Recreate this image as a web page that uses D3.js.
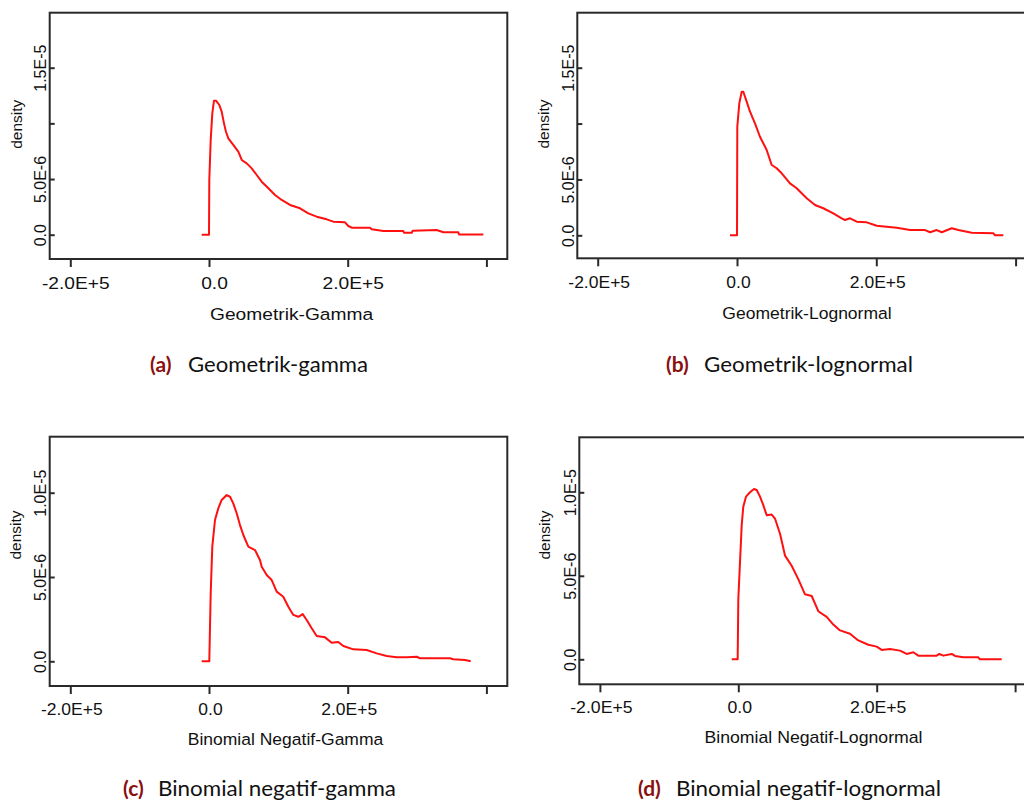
<!DOCTYPE html>
<html><head><meta charset="utf-8">
<script src="https://cdn.jsdelivr.net/npm/d3@7"></script>
<style>body{margin:0;background:#fff;overflow:hidden}</style>
</head><body>
<svg id="chart" width="1024" height="801"></svg>
<script>
// ---------- data ----------
const geomGammaX = [-10500, 0, 430, 2450, 4760, 7210, 10100, 14850, 18300, 21600, 24500, 27800, 35000, 42300, 47200, 54400, 61600, 68800, 76000, 85600, 95200, 104800, 116800, 131200, 143200, 155300, 169700, 179300, 196100, 200900, 205800, 232200, 234600, 251400, 280200, 281200, 292300, 293700, 328300, 338000, 359500, 360500, 395600];
const geomGammaY = [0, 0, 4.9e-6, 8.5e-6, 10.9e-6, 12.04e-6, 12.04e-6, 11.65e-6, 11.05e-6, 10.0e-6, 9.25e-6, 8.66e-6, 8.06e-6, 7.46e-6, 6.71e-6, 6.41e-6, 5.96e-6, 5.36e-6, 4.76e-6, 4.17e-6, 3.57e-6, 3.12e-6, 2.67e-6, 2.37e-6, 1.92e-6, 1.62e-6, 1.38e-6, 1.17e-6, 1.11e-6, 0.78e-6, 0.63e-6, 0.63e-6, 0.49e-6, 0.33e-6, 0.33e-6, 0.18e-6, 0.18e-6, 0.36e-6, 0.42e-6, 0.22e-6, 0.22e-6, 0.02e-6, 0.02e-6];

const geomLogX = [-10050, 0, 430, 3300, 6750, 9050, 13900, 18700, 25800, 33000, 42600, 49800, 57000, 64200, 76100, 85700, 100100, 112000, 123900, 138300, 150300, 155100, 162300, 171900, 186300, 200600, 229400, 248500, 270000, 277200, 286800, 294000, 308300, 317800, 337000, 368200, 370500, 382400];
const geomLogY = [0, 0, 9.72e-6, 11.81e-6, 12.85e-6, 12.85e-6, 11.96e-6, 11.06e-6, 10.02e-6, 8.82e-6, 7.63e-6, 6.29e-6, 6.0e-6, 5.55e-6, 4.65e-6, 4.21e-6, 3.31e-6, 2.71e-6, 2.42e-6, 1.97e-6, 1.52e-6, 1.37e-6, 1.52e-6, 1.22e-6, 1.16e-6, 0.86e-6, 0.68e-6, 0.47e-6, 0.47e-6, 0.27e-6, 0.47e-6, 0.27e-6, 0.63e-6, 0.47e-6, 0.23e-6, 0.18e-6, 0, 0];

const negbinGammaX = [-10500, 0, 430, 2450, 4760, 8650, 13400, 18300, 25500, 30300, 35000, 39900, 44700, 49500, 56700, 66300, 73500, 76000, 83200, 90400, 97600, 107100, 114400, 121600, 128800, 135100, 140900, 148100, 155300, 167300, 176900, 186400, 193700, 208100, 227400, 241800, 256200, 270700, 285100, 299500, 304300, 347500, 352300, 369200, 377400];
const negbinGammaY = [0, 0, 0, 4.03e-6, 6.8e-6, 8.38e-6, 9.07e-6, 9.57e-6, 9.86e-6, 9.76e-6, 9.37e-6, 8.78e-6, 8.08e-6, 7.49e-6, 6.8e-6, 6.6e-6, 6.01e-6, 5.61e-6, 5.12e-6, 4.82e-6, 4.13e-6, 3.83e-6, 3.24e-6, 2.75e-6, 2.64e-6, 2.8e-6, 2.45e-6, 1.96e-6, 1.5e-6, 1.42e-6, 1.1e-6, 1.14e-6, 0.91e-6, 0.71e-6, 0.67e-6, 0.47e-6, 0.31e-6, 0.24e-6, 0.24e-6, 0.27e-6, 0.18e-6, 0.18e-6, 0.12e-6, 0.08e-6, 0];

const negbinLogX = [-9500, -900, 0, 2460, 4900, 7200, 11100, 16900, 22700, 26600, 31400, 36100, 41000, 48300, 53000, 60300, 67500, 77100, 86700, 96400, 106100, 115600, 127700, 137300, 147000, 161400, 173400, 187900, 200000, 207200, 219200, 233700, 243300, 252900, 260100, 286700, 290500, 296300, 308400, 313200, 325100, 346800, 349200, 380600];
const negbinLogY = [0, 0, 3.59e-6, 5.81e-6, 8.02e-6, 9.14e-6, 9.74e-6, 10.0e-6, 10.2e-6, 10.14e-6, 9.74e-6, 9.23e-6, 8.63e-6, 8.67e-6, 8.43e-6, 7.52e-6, 6.21e-6, 5.6e-6, 4.8e-6, 3.89e-6, 3.79e-6, 2.88e-6, 2.54e-6, 2.08e-6, 1.73e-6, 1.53e-6, 1.13e-6, 0.87e-6, 0.76e-6, 0.56e-6, 0.61e-6, 0.52e-6, 0.32e-6, 0.42e-6, 0.22e-6, 0.22e-6, 0.32e-6, 0.22e-6, 0.32e-6, 0.2e-6, 0.12e-6, 0.12e-6, 0, 0];

const xTickValues = [-2e5, 0, 2e5, 4e5];
const xTickLabels = ["-2.0E+5", "0.0", "2.0E+5", ""];
const yTickValuesTop = [0, 5e-6, 1e-5, 1.5e-5];
const yTickLabelsTop = ["0.0", "5.0E-6", "", "1.5E-5"];
const yTickValuesBottom = [0, 5e-6, 1e-5];
const yTickLabelsBottom = ["0.0", "5.0E-6", "1.0E-5"];
const yTitle = "density";
const xTitles = ["Geometrik-Gamma", "Geometrik-Lognormal", "Binomial Negatif-Gamma", "Binomial Negatif-Lognormal"];
const captionTags = ["(a)", "(b)", "(c)", "(d)"];
const captionTexts = ["Geometrik-gamma", "Geometrik-lognormal", "Binomial negatif-gamma", "Binomial negatif-lognormal"];

// ---------- layout ----------
const layout = [
  {boxL: 49.7, boxR: 507.3, boxT: 12.7, boxB: 259, x0: 209, xStep: 138.7, y0: 234.7, yRefPx: 67.7, yRefVal: 1.5e-5,
   hs: 1.13, tdx: 5, tickBase: 30, titleBase: 61, titleCx: 291.6, densX: 21.7, densY: 124.2,
   capTagX: 150, capTextX: 188, capTextW: 180, capBase: 372},
  {boxL: 577.3, boxR: 1036, boxT: 12.7, boxB: 258.3, x0: 737, xStep: 139.3, y0: 235.3, yRefPx: 67.7, yRefVal: 1.5e-5,
   hs: 1.03, tdx: 1, tickBase: 30, titleBase: 61, titleCx: 807, densX: 548.5, densY: 124,
   capTagX: 666, capTextX: 704, capTextW: 209, capBase: 372},
  {boxL: 49.7, boxR: 507.3, boxT: 436.7, boxB: 686, x0: 209, xStep: 138.7, y0: 661.3, yRefPx: 492.7, yRefVal: 1e-5,
   hs: 1.03, tdx: 1, tickBase: 29, titleBase: 59, titleCx: 285.5, densX: 21, densY: 535,
   capTagX: 123, capTextX: 158, capTextW: 238, capBase: 796},
  {boxL: 579.3, boxR: 1038, boxT: 437.3, boxB: 684.3, x0: 738.3, xStep: 138.4, y0: 659.3, yRefPx: 492.3, yRefVal: 1e-5,
   hs: 1.04, tdx: 1, tickBase: 29, titleBase: 59, titleCx: 813.5, densX: 549.5, densY: 535,
   capTagX: 638, capTextX: 676, capTextW: 265, capBase: 796}
];

const seriesX = [geomGammaX, geomLogX, negbinGammaX, negbinLogX];
const seriesY = [geomGammaY, geomLogY, negbinGammaY, negbinLogY];
const yTickVals = [yTickValuesTop, yTickValuesTop, yTickValuesBottom, yTickValuesBottom];
const yTickLabs = [yTickLabelsTop, yTickLabelsTop, yTickLabelsBottom, yTickLabelsBottom];

const svg = d3.select("#chart");
const axisFont = "'Liberation Sans', Arial, Helvetica, sans-serif";
const dark = "#2a2a2a";

layout.forEach((L, i) => {
  const g = svg.append("g");
  const x = d3.scaleLinear().domain([0, 2e5]).range([L.x0, L.x0 + L.xStep]);
  const y = d3.scaleLinear().domain([0, L.yRefVal]).range([L.y0, L.yRefPx]);

  // curve
  const pts = seriesX[i].map((v, k) => [v, seriesY[i][k]]);
  g.append("path")
    .datum(pts)
    .attr("fill", "none")
    .attr("stroke", "#ff1010")
    .attr("stroke-width", 2)
    .attr("stroke-linejoin", "round")
    .attr("d", d3.line().x(d => x(d[0])).y(d => y(d[1])));

  // box
  g.append("rect")
    .attr("x", L.boxL).attr("y", L.boxT)
    .attr("width", L.boxR - L.boxL).attr("height", L.boxB - L.boxT)
    .attr("fill", "none").attr("stroke", dark).attr("stroke-width", 2);

  // x axis
  const xa = g.append("g").attr("transform", `translate(0,${L.boxB})`)
    .call(d3.axisBottom(x).tickValues(xTickValues)
      .tickFormat((d, k) => xTickLabels[k]).tickSize(8).tickSizeOuter(0));
  xa.select(".domain").remove();
  xa.selectAll(".tick line").attr("stroke", dark).attr("stroke-width", 2);
  xa.selectAll(".tick text")
    .attr("y", null).attr("dy", null)
    .attr("transform", `translate(${L.tdx},${L.tickBase}) scale(${L.hs},1)`)
    .attr("fill", "#111")
    .style("font-family", axisFont).style("font-size", "17px");

  // y axis
  const ya = g.append("g").attr("transform", `translate(${L.boxL},0)`)
    .call(d3.axisLeft(y).tickValues(yTickVals[i])
      .tickFormat((d, k) => yTickLabs[i][k]).tickSize(-5).tickSizeOuter(0));
  ya.select(".domain").remove();
  ya.selectAll(".tick line").attr("stroke", dark).attr("stroke-width", 2);
  ya.selectAll(".tick text")
    .attr("x", null).attr("dy", null)
    .attr("text-anchor", "middle")
    .attr("transform", "translate(-3.5,0) rotate(-90)")
    .attr("fill", "#111")
    .style("font-family", axisFont).style("font-size", "16px");

  // titles
  g.append("text")
    .attr("transform", `translate(${L.titleCx},${L.boxB + L.titleBase}) scale(${L.hs},1)`)
    .attr("text-anchor", "middle")
    .attr("fill", "#111")
    .style("font-family", axisFont).style("font-size", "17px")
    .text(xTitles[i]);
  g.append("text")
    .attr("transform", `translate(${L.densX},${L.densY}) rotate(-90)`)
    .attr("text-anchor", "middle")
    .attr("fill", "#111")
    .style("font-family", axisFont).style("font-size", "15.5px")
    .text(yTitle);

  // caption
  const capFont = "Lato, 'Open Sans', sans-serif";
  svg.append("text")
    .attr("x", L.capTagX).attr("y", L.capBase)
    .attr("fill", "#8a1010")
    .style("font-family", capFont).style("font-size", "21px").style("font-weight", "bold")
    .text(captionTags[i]);
  svg.append("text")
    .attr("x", L.capTextX).attr("y", L.capBase)
    .attr("fill", "#111")
    .attr("textLength", L.capTextW).attr("lengthAdjust", "spacingAndGlyphs")
    .style("font-family", capFont).style("font-size", "21px")
    .text(captionTexts[i]);
});
</script>
</body></html>
